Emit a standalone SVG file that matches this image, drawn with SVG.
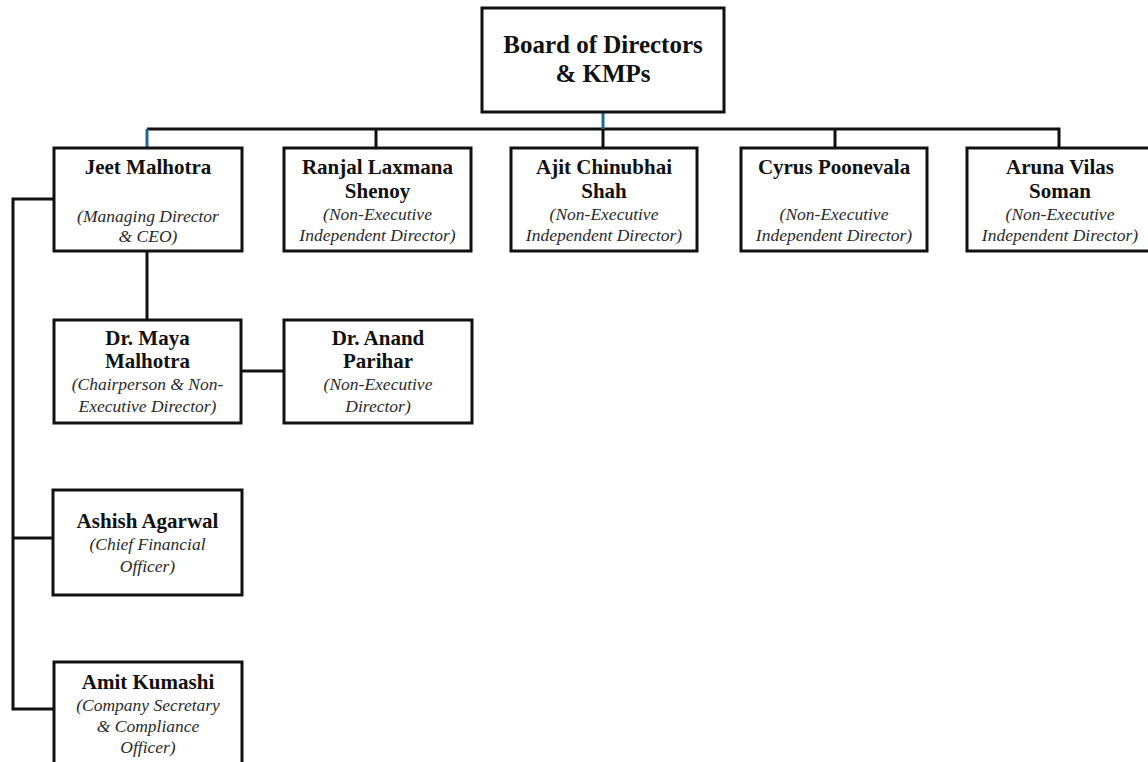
<svg xmlns="http://www.w3.org/2000/svg" width="1148" height="762" viewBox="0 0 1148 762">
<style>
.box{fill:#fff;stroke:#111;stroke-width:3}
.ln{fill:none;stroke:#111;stroke-width:3}
.bl{fill:none;stroke:#1f6a92;stroke-width:3}
.t{font-family:"Liberation Serif","Times New Roman",serif;text-anchor:middle;fill:#111}
.title{font-size:25px;font-weight:bold}
.nm{font-size:21px;font-weight:bold}
.rl{font-size:17.5px;font-style:italic;fill:#2a2a2a}
</style>
<rect width="1148" height="762" fill="#fff"/>
<g id="connectors">
<path class="ln" d="M147 129 H1059 V148"/>
<path class="ln" d="M376 129 V148 M603 129 V148 M835 129 V148"/>
<path class="bl" d="M603 112 V129"/>
<path class="bl" d="M147 129 V148"/>
<path class="ln" d="M147 251 V320"/>
<path class="ln" d="M241 371 H284"/>
<path class="ln" d="M54 199 H13 V709 H54"/>
<path class="ln" d="M13 538 H53"/>
</g>
<g id="board">
<rect class="box" x="482" y="8" width="242" height="104"/>
<text class="t title" x="603" y="53">Board of Directors</text>
<text class="t title" x="603" y="82">&amp; KMPs</text>
</g>
<g id="jeet">
<rect class="box" x="54" y="148" width="188" height="103"/>
<text class="t nm" x="148" y="174">Jeet Malhotra</text>
<text class="t rl" x="148" y="222">(Managing Director</text>
<text class="t rl" x="148" y="242">&amp; CEO)</text>
</g>
<g id="ranjal">
<rect class="box" x="284" y="148" width="187" height="103"/>
<text class="t nm" x="377.5" y="174">Ranjal Laxmana</text>
<text class="t nm" x="377.5" y="198">Shenoy</text>
<text class="t rl" x="377.5" y="220">(Non-Executive</text>
<text class="t rl" x="377.5" y="241">Independent Director)</text>
</g>
<g id="ajit">
<rect class="box" x="511" y="148" width="186" height="103"/>
<text class="t nm" x="604" y="174">Ajit Chinubhai</text>
<text class="t nm" x="604" y="198">Shah</text>
<text class="t rl" x="604" y="220">(Non-Executive</text>
<text class="t rl" x="604" y="241">Independent Director)</text>
</g>
<g id="cyrus">
<rect class="box" x="741" y="148" width="186" height="103"/>
<text class="t nm" x="834" y="174">Cyrus Poonevala</text>
<text class="t rl" x="834" y="220">(Non-Executive</text>
<text class="t rl" x="834" y="241">Independent Director)</text>
</g>
<g id="aruna">
<rect class="box" x="967" y="148" width="186" height="103"/>
<text class="t nm" x="1060" y="174">Aruna Vilas</text>
<text class="t nm" x="1060" y="198">Soman</text>
<text class="t rl" x="1060" y="220">(Non-Executive</text>
<text class="t rl" x="1060" y="241">Independent Director)</text>
</g>
<g id="maya">
<rect class="box" x="54" y="320" width="187" height="103"/>
<text class="t nm" x="147.5" y="345">Dr. Maya</text>
<text class="t nm" x="147.5" y="368">Malhotra</text>
<text class="t rl" x="147.5" y="390">(Chairperson &amp; Non-</text>
<text class="t rl" x="147.5" y="412">Executive Director)</text>
</g>
<g id="anand">
<rect class="box" x="284" y="320" width="188" height="103"/>
<text class="t nm" x="378" y="345">Dr. Anand</text>
<text class="t nm" x="378" y="368">Parihar</text>
<text class="t rl" x="378" y="390">(Non-Executive</text>
<text class="t rl" x="378" y="412">Director)</text>
</g>
<g id="ashish">
<rect class="box" x="53" y="490" width="189" height="105"/>
<text class="t nm" x="147.5" y="528">Ashish Agarwal</text>
<text class="t rl" x="147.5" y="550">(Chief Financial</text>
<text class="t rl" x="147.5" y="572">Officer)</text>
</g>
<g id="amit">
<rect class="box" x="54" y="662" width="188" height="110"/>
<text class="t nm" x="148" y="689">Amit Kumashi</text>
<text class="t rl" x="148" y="711">(Company Secretary</text>
<text class="t rl" x="148" y="732">&amp; Compliance</text>
<text class="t rl" x="148" y="753">Officer)</text>
</g>
</svg>
